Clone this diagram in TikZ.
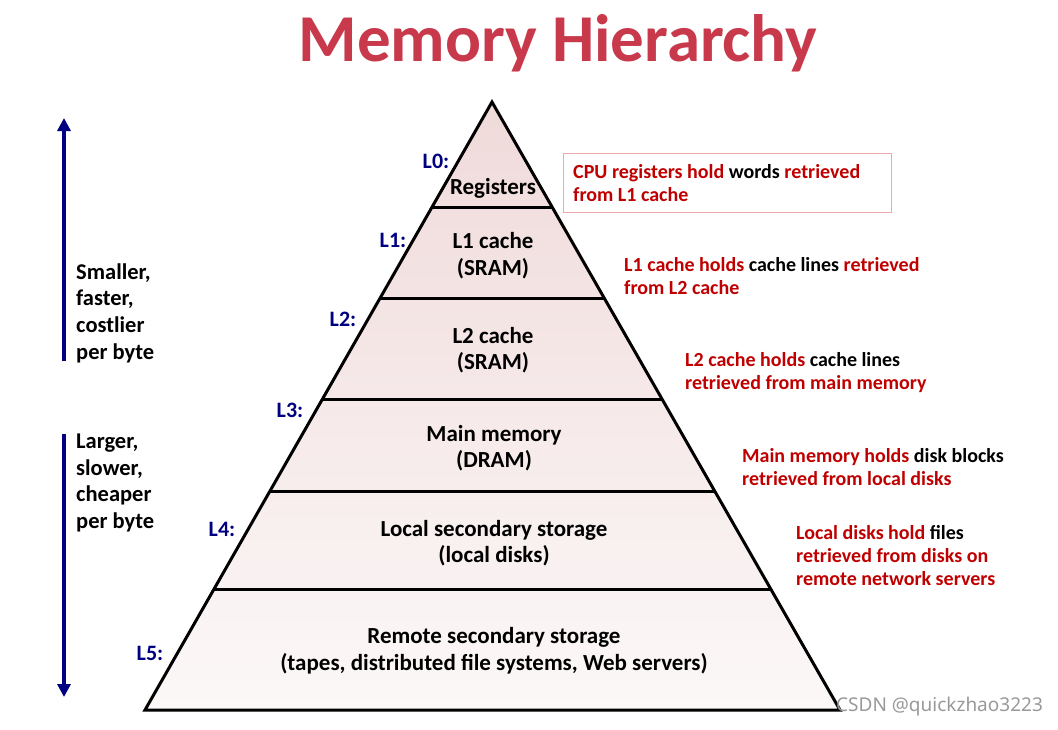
\documentclass[tikz,border=0pt]{standalone}
\usepackage{fontspec}
\setmainfont{Carlito}
\newfontfamily\wmfont{Noto Sans}
\usetikzlibrary{arrows.meta,calc}
\definecolor{titlered}{RGB}{200,58,75}
\definecolor{darkred}{RGB}{192,0,0}
\definecolor{navy}{RGB}{0,0,128}
\definecolor{pyrtop}{RGB}{240,218,218}
\definecolor{pyrbot}{RGB}{252,248,248}
\definecolor{boxborder}{RGB}{236,170,170}
\begin{document}
\begin{tikzpicture}[x=1pt,y=-1pt,
  layertext/.style={font=\fontsize{23}{26.5}\selectfont\bfseries, align=center, inner sep=0},
  lvl/.style={font=\fontsize{22}{24}\selectfont\bfseries, text=navy, inner sep=0},
  note/.style={font=\fontsize{20}{23}\selectfont\bfseries, text=darkred, align=left, anchor=west, inner sep=0},
  side/.style={font=\fontsize{22.5}{26.7}\selectfont\bfseries, align=left, anchor=west, inner sep=0},
  bigarrow/.style={draw=navy, line width=4pt, -{Triangle[width=13pt,length=13pt]}},
  layerline/.style={line width=3pt}
]
\useasboundingbox (0,0) rectangle (1058,729);
\fill[white] (0,0) rectangle (1058,729);

\node[font=\fontsize{67}{70}\selectfont\bfseries, text=titlered, anchor=base] (title) at (558,61) {Memory Hierarchy};

% pyramid
\coordinate (apex) at (492,102);
\coordinate (bl) at (145,710);
\coordinate (br) at (840,710);
\shade[top color=pyrtop, bottom color=pyrbot] (apex) -- (br) -- (bl) -- cycle;
\foreach \t in {0.1743,0.3224,0.4885,0.6414,0.8026}{
  \draw[layerline] ($(apex)!\t!(bl)$) -- ($(apex)!\t!(br)$);
}
\draw[line width=3pt, line join=miter] (apex) -- (br) -- (bl) -- cycle;

% layer texts
\node[layertext] (reg) at (493,188.5) {Registers};
\node[layertext] (l1t) at (493,255.5) {L1 cache\\(SRAM)};
\node[layertext] (l2t) at (493,350) {L2 cache\\(SRAM)};
\node[layertext] (l3t) at (494,448) {Main memory\\(DRAM)};
\node[layertext] (l4t) at (494,543) {Local secondary storage\\(local disks)};
\node[layertext] (l5t) at (494,650.5) {Remote secondary storage\\(tapes, distributed file systems, Web servers)};

% level labels
\node[lvl] (L0) at (436,161) {L0:};
\node[lvl] (L1) at (393,240) {L1:};
\node[lvl] (L2) at (343,319) {L2:};
\node[lvl] (L3) at (290,410) {L3:};
\node[lvl] (L4) at (222,529) {L4:};
\node[lvl] (L5) at (150,653) {L5:};

% notes
\draw[boxborder, line width=1pt] (563,153) rectangle (891,212);
\node[note] (n0) at (573,183.5) {CPU registers hold \textcolor{black}{words} retrieved\\from L1 cache};
\node[note] (n1) at (624,276) {L1 cache holds \textcolor{black}{cache lines} retrieved\\from L2 cache};
\node[note] (n2) at (685,373) {L2 cache holds \textcolor{black}{cache lines}\\retrieved from main memory};
\node[note] (n3) at (742,467.5) {Main memory holds \textcolor{black}{disk blocks}\\retrieved from local disks};
\node[note] (n4) at (796,556) {Local disks hold \textcolor{black}{files}\\retrieved from disks on\\remote network servers};

% left arrows
\coordinate (upS) at (64,361);
\coordinate (upE) at (64,118);
\coordinate (dnS) at (64,434);
\coordinate (dnE) at (64,697);
\draw[bigarrow] (upS) -- (upE);
\draw[bigarrow] (dnS) -- (dnE);
\node[side] (s1) at (76,313) {Smaller,\\faster,\\costlier\\per byte};
\node[side] (s2) at (76,483) {Larger,\\slower,\\cheaper\\per byte};

% watermark
\node[font=\wmfont\fontsize{19}{22}\selectfont, text=black!40, anchor=west, inner sep=0] (wm) at (836,707) {CSDN @quickzhao3223};
\end{tikzpicture}
\end{document}
